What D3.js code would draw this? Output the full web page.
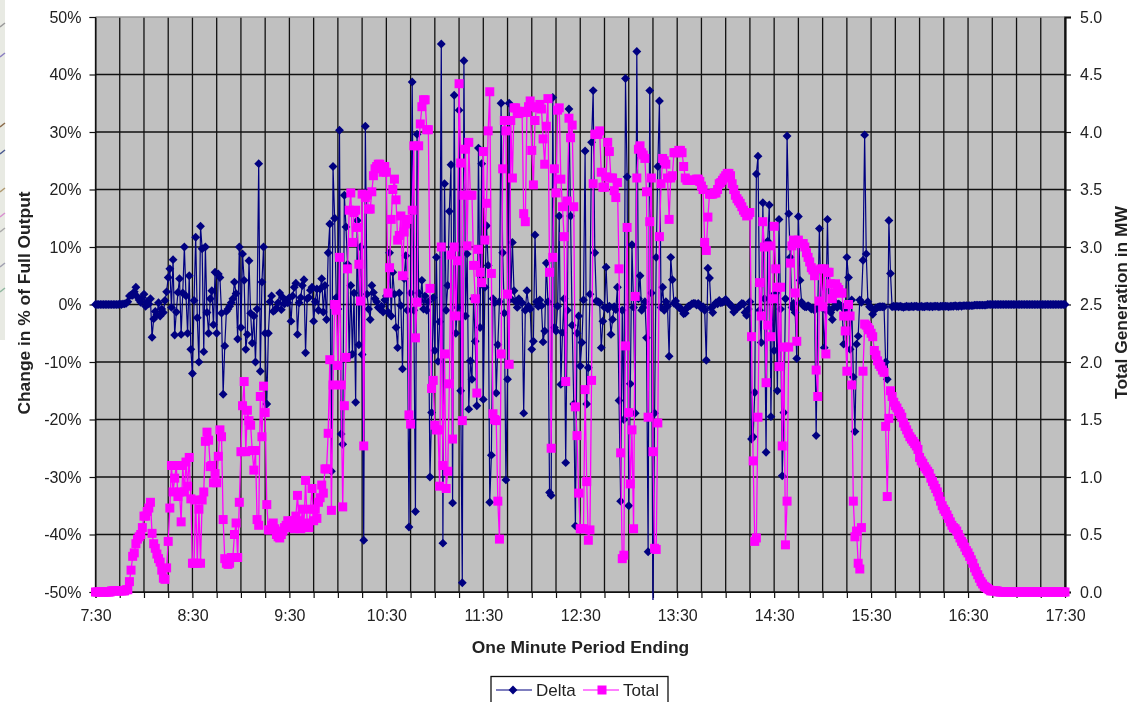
<!DOCTYPE html>
<html>
<head>
<meta charset="utf-8">
<script src="https://cdn.jsdelivr.net/npm/d3@7"></script>
<style>
  html, body { margin: 0; padding: 0; background: #fff; overflow: hidden; }
  svg { filter: blur(0.45px); }
  text { font-family: "Liberation Sans", Arial, sans-serif; fill: #222; }
</style>
</head>
<body>
<div id="chart"></div>
<script>
// tick labels, one per hour
const hourLabels = ["7:30","8:30","9:30","10:30","11:30","12:30","13:30","14:30","15:30","16:30","17:30"];

// one value per minute, each row is 15 minutes starting at 7:30
// change in % of full output
const delta = [
  0,0,0,0,0,0,0,0,0,0,0,0,0,0,0,
  0.1,0,0.1,0.1,0.2,0.5,1.5,1.6,1.6,2.2,3,1.3,0.8,0.4,1.2,
  1.8,-0.3,0.5,0.1,1,-5.7,-2.5,-1.2,-1.8,0.3,-2,-0.8,-1.4,0.7,2.2,
  4.7,6.2,-0.5,7.8,-5.3,-1.3,2.1,4.5,-5.2,2,10,1.5,-5,5,-7.8,
  -12,0.7,11.7,-2.3,-10,13.6,9.7,-8.2,10,-1.4,-5,1,2.4,-3.5,5.6,
  -5,5.3,4.7,-1.5,-15.6,-7.2,-1.2,-0.8,-0.3,0.3,1,3.9,1.9,-6,10,
  -4,8.8,4.2,-7.8,-5.2,7.6,-1.5,-6.7,-2,-10,-0.8,24.5,-11.6,3.9,10,
  -5,-17.3,-5,0.5,1.5,-1.2,-1,-0.6,0.3,2,-0.9,1.2,0.1,0.6,0.3,
  1.2,-2.9,1.5,3,3.7,-5.2,0.3,1.2,3.3,4.3,-8.4,1,1.2,2.5,3,
  -2.9,0.5,2.7,-1,2.7,4.5,-1.3,3.3,-2.6,9,14,-29,24,15,1.2,
  -0.8,30.3,-22.5,-24.3,19,13.5,7,-9,3.3,-8.6,2,-17,14.6,-7,10,
  -8.7,-41,31,1.8,-0.8,-2.6,3.3,2.1,1,0.5,-0.5,-0.8,-0.3,-1.3,0.8,
  1.5,-1.3,9,-2,5.6,1.8,-4,-7.5,2,-0.2,-11.2,4.5,8.5,-1,-38.7,
  2,38.7,-1,-36,29.6,2,0.7,4.2,-0.8,1.5,-1,0.5,-30,-18.8,1.2,
  -8,8.2,-9.9,-3,45.3,-41.5,21,-1,3.3,16.2,24.3,-34.5,36.4,-5,-0.5,
  33.8,-15,-48.4,42.4,-2,8.8,-18.2,-9.8,-13,1,-6.4,-17.6,27.2,-4,24.5,
  -16.5,3,13.7,6.8,-34.4,-26.2,1,0.3,-15.4,-7,0.5,35,9,-1.5,-30.5,
  -13,35,1,10.8,2.4,0.5,-0.5,1,0.5,0.3,-18.9,-1,2.4,-0.3,-0.8,
  -7.8,-6.4,12.1,0.5,-0.3,0.8,-0.2,-6.5,-4.6,7.2,0.5,-32.7,-33.2,36,-4,
  -4.6,-0.3,15.4,-13.9,-4.9,1,-27.5,-1,34,15.4,-3.6,-17.3,-38.5,-5,-2,
  -10.7,-6.6,0.8,26.7,-17.3,-11,1.8,28.2,37.2,9,0.6,0.5,0.3,-7.5,-2.9,
  -0.5,6.5,-0.8,-0.3,-5.2,-2.6,-0.4,-0.9,3,-16.7,-34.2,-1,-20,39.3,22.2,
  -35,-13.8,10.4,-0.5,-18.9,44,1,5,-1,-0.5,0.5,-5.8,-43,37.2,2,
  -53,-18.9,8.2,24,35.4,-0.5,3,-1,0.5,-0.3,-9,8.2,4.3,0.2,0.6,
  -0.2,-0.5,-0.6,-1,-1.6,-1.5,-0.6,-0.3,-0.2,0.1,0.2,0.2,-0.1,0.2,-0.1,
  -0.6,-0.4,-1,-9.7,6.3,4.6,-0.6,-1.4,-0.1,0.3,0.1,0.7,0.3,0.4,0.5,
  0.9,0.5,0.2,-0.1,-0.4,-1.3,-0.9,-0.7,-0.4,-0.2,0.2,0.1,-1.4,-1.9,-0.8,
  0.5,-23.4,-23,-15.3,22.7,25.8,-1,-6.6,17.7,1,-25.7,11,17.3,-19.5,1.5,
  -8,2,-15,14.8,-0.8,-29.8,-18.8,1,29.3,15.8,8.2,-0.5,0.2,-1.4,-9.4,
  15.3,4.2,0.4,-0.2,-0.4,-0.4,-0.2,-0.4,-0.8,-0.6,-1,-22.8,-0.5,13.2,-0.3,
  -0.6,-7.5,-1,14.8,-0.8,-1.4,-2.6,-0.5,0.3,-0.5,0.1,-0.2,-0.3,-6.9,-1,
  8.2,4.7,-7.8,0.8,-12.6,-22.1,-6.9,-5.5,0.8,0.4,7.7,29.5,8.8,0.5,-0.4,
  -0.5,-1.7,-1,-0.6,-0.5,-0.4,-0.4,-0.4,-0.4,-10,-13,14.6,5.4,-0.4,-0.3,
  -0.4,-0.3,-0.4,-0.3,-0.4,-0.5,-0.4,-0.3,-0.4,-0.4,-0.3,-0.4,-0.3,-0.3,-0.4,
  -0.4,-0.3,-0.4,-0.4,-0.3,-0.3,-0.4,-0.3,-0.4,-0.3,-0.3,-0.3,-0.4,-0.3,-0.3,
  -0.3,-0.3,-0.3,-0.4,-0.3,-0.3,-0.3,-0.2,-0.3,-0.3,-0.2,-0.3,-0.2,-0.2,-0.2,
  -0.2,-0.2,-0.2,-0.2,-0.1,-0.1,-0.1,-0.1,-0.1,-0.1,-0.1,-0.1,0,0,0,
  0,0,0,0,0,0,0,0,0,0,0,0,0,0,0,
  0,0,0,0,0,0,0,0,0,0,0,0,0,0,0,
  0,0,0,0,0,0,0,0,0,0,0,0,0,0,0,
  0
];

// total generation in MW
const total = [
  0,0,0,0,0,0,0,0,0,0,0.01,0.01,0.01,0.01,0.01,
  0.01,0.01,0.01,0.01,0.02,0.02,0.09,0.19,0.31,0.34,0.42,0.46,0.48,0.5,0.56,
  0.66,0.66,0.7,0.73,0.78,0.51,0.42,0.38,0.33,0.29,0.26,0.19,0.12,0.11,0.21,
  0.44,0.73,1.1,0.87,0.99,1.1,0.83,0.87,0.61,1.1,0.87,1.13,0.92,1.17,0.81,
  0.25,0.25,0.8,0.25,0.72,0.25,0.8,0.87,1.31,1.39,1.32,1.09,1.1,0.95,1.03,
  0.95,1.18,1.41,1.35,0.63,0.29,0.25,0.24,0.25,0.3,0.3,0.5,0.6,0.3,0.78,
  1.22,1.62,1.83,1.22,1.58,1.49,1.45,1.23,1.06,1.23,0.63,0.58,1.7,1.35,1.79,
  1.56,0.76,0.54,0.54,0.58,0.6,0.55,0.5,0.48,0.47,0.5,0.53,0.56,0.58,0.62,
  0.6,0.56,0.62,0.55,0.66,0.84,0.62,0.55,0.72,0.58,0.97,0.6,0.56,0.72,0.9,
  0.62,0.72,0.64,0.78,0.82,0.93,0.86,1.07,1.07,1.38,2.02,0.71,1.8,2.5,2.45,
  1.97,2.91,1.8,0.74,1.62,2.04,2.81,3.32,3.47,3.04,3.3,3.32,3.17,2.85,2.53,
  3.46,1.27,3.43,3.45,3.33,3.33,3.48,3.62,3.68,3.7,3.72,3.72,3.7,3.65,3.7,
  3.65,2.6,2.82,3.24,3.5,3.59,3.41,3.06,3.1,3.27,2.75,3.13,3.2,3.24,1.54,
  1.46,3.32,3.88,2.21,2.52,3.88,4.07,4.22,4.28,4.28,4.02,4.02,2.64,1.77,1.84,
  1.45,1.41,1.41,0.92,3,1.1,2.07,0.9,1.05,1.81,2.93,1.33,3,2.4,2.88,
  4.42,3.73,1.49,3.45,3.85,3.01,3.91,3.45,3.45,2.84,2.55,1.73,2.98,2.78,2.69,
  3.83,3.06,3.38,4.01,4.35,2.77,1.55,1.5,1.49,0.79,0.46,2.07,3.68,4.1,4.01,
  2.59,1.98,4.1,3.6,4.21,4.21,4.18,4.16,4.17,4.18,3.29,3.22,4.17,4.22,4.27,
  3.84,3.54,4.1,4.21,4.22,4.24,4.2,3.94,3.72,4.05,4.29,2.78,1.25,2.91,3.68,
  3.47,4.19,4.21,3.59,3.35,3.09,1.83,3.4,4.12,3.95,4.06,3.35,1.61,1.36,0.86,
  0.55,0.55,0.55,1.76,0.96,0.45,0.54,1.84,3.55,3.98,3.98,3.98,4.01,3.65,3.52,
  3.52,3.61,3.91,3.83,3.6,3.6,3.49,3.43,3.56,2.81,1.21,0.29,0.32,2.14,3.17,
  1.56,0.94,1.41,0.55,2.57,3.6,3.85,3.88,3.82,3.8,3.77,3.48,1.52,3.22,3.6,
  1.22,0.38,0.37,1.47,3.09,3.55,3.77,3.75,3.72,3.6,3.24,3.6,3.62,3.82,3.82,
  3.82,3.84,3.84,3.82,3.7,3.6,3.58,3.58,3.58,3.58,3.58,3.58,3.59,3.59,3.57,
  3.53,3.5,3.04,2.97,3.26,3.46,3.46,3.46,3.47,3.47,3.5,3.55,3.56,3.58,3.6,
  3.62,3.64,3.64,3.62,3.55,3.5,3.45,3.42,3.4,3.38,3.35,3.32,3.3,3.27,3.28,
  3.3,2.22,1.14,0.44,0.47,1.52,2.69,2.4,3.22,3,1.82,2.32,3.01,2.22,2.55,
  3.18,2.81,2.65,1.96,2.65,1.27,2.13,0.41,0.79,2.13,2.86,3.01,3.06,2.6,2.18,
  3.06,3.03,3.03,3.03,3,2.95,2.91,2.87,2.82,2.8,2.75,1.93,1.7,2.53,2.81,
  2.48,2.81,2.07,2.78,2.78,2.68,2.55,2.6,2.68,2.65,2.63,2.6,2.6,2.4,2.27,
  1.92,2.5,2.4,1.8,0.79,0.48,0.53,0.25,0.2,0.56,1.92,2.33,2.32,2.3,2.28,
  2.25,2.22,2.1,2.06,2.01,1.98,1.96,1.93,1.91,1.44,0.83,1.51,1.75,1.7,1.65,
  1.62,1.6,1.57,1.55,1.52,1.47,1.44,1.41,1.38,1.35,1.33,1.31,1.29,1.27,1.24,
  1.17,1.14,1.12,1.09,1.07,1.05,1.03,0.99,0.96,0.93,0.9,0.87,0.83,0.79,0.75,
  0.72,0.7,0.67,0.64,0.61,0.58,0.56,0.55,0.53,0.5,0.47,0.44,0.42,0.39,0.36,
  0.34,0.31,0.28,0.25,0.21,0.18,0.15,0.12,0.09,0.07,0.05,0.04,0.03,0.02,0.01,
  0.01,0.01,0.01,0.01,0,0,0,0,0,0,0,0,0,0,0,
  0,0,0,0,0,0,0,0,0,0,0,0,0,0,0,
  0,0,0,0,0,0,0,0,0,0,0,0,0,0,0,
  0
];

const width = 1138, height = 702;
const margin = { top: 17, right: 73, bottom: 110, left: 95.5 };
const plotW = width - margin.left - margin.right,
      plotH = height - margin.top - margin.bottom;

const svg = d3.select("#chart").append("svg")
    .attr("width", width)
    .attr("height", height);

// bit of the page behind the chart, showing at the left edge of the screenshot
svg.append("rect").attr("width", 5).attr("height", 340).attr("fill", "#e8eae3");
[[25,"#999"],[55,"#8a7fc0"],[125,"#8a6a4a"],[152,"#4a5a90"],[190,"#b09a70"],[215,"#d890d0"],[230,"#aaa"],[265,"#a0a0b0"],[290,"#90b8a0"]]
  .forEach(s => svg.append("line")
    .attr("x1", 0).attr("x2", 5).attr("y1", s[0] + 2).attr("y2", s[0] - 2)
    .attr("stroke", s[1]).attr("stroke-width", 1.5));

const g = svg.append("g")
    .attr("transform", `translate(${margin.left},${margin.top})`);

const x = d3.scaleLinear().domain([0, delta.length - 1]).range([0, plotW]);
const yLeft = d3.scaleLinear().domain([-50, 50]).range([plotH, 0]);
const yRight = d3.scaleLinear().domain([0, 5]).range([plotH, 0]);

svg.append("defs").append("clipPath").attr("id", "plotClip")
  .append("rect")
    .attr("x", -8).attr("y", 0)
    .attr("width", plotW + 16).attr("height", plotH + 8);

// grey plot area
g.append("rect")
    .attr("width", plotW).attr("height", plotH)
    .attr("fill", "#c0c0c0");

// gridlines
const quarterTicks = d3.range(0, 601, 15);
const yTicks = d3.range(-50, 51, 10);
g.append("g").selectAll("line").data(quarterTicks).enter().append("line")
    .attr("x1", d => x(d)).attr("x2", d => x(d))
    .attr("y1", 0).attr("y2", plotH)
    .attr("stroke", "#111").attr("stroke-width", 1.3);
g.append("g").selectAll("line").data(yTicks).enter().append("line")
    .attr("x1", 0).attr("x2", plotW)
    .attr("y1", d => yLeft(d)).attr("y2", d => yLeft(d))
    .attr("stroke", d => d === 50 ? "#999" : "#111").attr("stroke-width", 1.3);

// axes
const xAxis = g.append("g")
    .attr("transform", `translate(0,${plotH})`)
    .call(d3.axisBottom(x).tickValues(quarterTicks).tickSize(6).tickPadding(12)
      .tickFormat(d => d % 60 === 0 ? hourLabels[d / 60] : ""));
const leftAxis = g.append("g")
    .call(d3.axisLeft(yLeft).tickValues(yTicks).tickSize(6).tickPadding(8).tickFormat(d => d + "%"));
const rightAxis = g.append("g")
    .attr("transform", `translate(${plotW},0)`)
    .call(d3.axisRight(yRight).tickValues(d3.range(0, 5.01, 0.5)).tickSize(6).tickPadding(9).tickFormat(d3.format(".1f")));

[xAxis, leftAxis, rightAxis].forEach(a => {
  a.selectAll("text").style("font-size", "16px").style("fill", "#222");
  a.selectAll("line").attr("stroke", "#111").attr("stroke-width", 1.2);
  a.select(".domain").attr("stroke", "#111");
});
rightAxis.select(".domain").attr("stroke-width", 2.2);

// series
const series = g.append("g").attr("clip-path", "url(#plotClip)");

const lineDelta = d3.line().x((d, i) => x(i)).y(d => yLeft(d));
const lineTotal = d3.line().x((d, i) => x(i)).y(d => yRight(d));

series.append("path").datum(delta)
    .attr("d", lineDelta).attr("fill", "none")
    .attr("stroke", "#000080").attr("stroke-width", 1.2);
series.append("g").selectAll("path").data(delta).enter().append("path")
    .attr("d", d3.symbol(d3.symbolDiamond2, 50))
    .attr("transform", (d, i) => `translate(${x(i)},${yLeft(d)})`)
    .attr("fill", "#000080");

series.append("path").datum(total)
    .attr("d", lineTotal).attr("fill", "none")
    .attr("stroke", "#ff00ff").attr("stroke-width", 1.3);
series.append("g").selectAll("rect").data(total).enter().append("rect")
    .attr("x", -4.5).attr("y", -4.5)
    .attr("width", 9).attr("height", 9)
    .attr("transform", (d, i) => `translate(${x(i)},${yRight(d)})`)
    .attr("fill", "#ff00ff");

// titles
svg.append("text")
    .attr("text-anchor", "middle")
    .attr("x", 580.5).attr("y", 653)
    .style("font-size", "17.4px").style("font-weight", "bold")
    .text("One Minute Period Ending");
svg.append("text")
    .attr("text-anchor", "middle")
    .attr("transform", "translate(29.5,303) rotate(-90)")
    .style("font-size", "17.4px").style("font-weight", "bold")
    .text("Change in % of Full Output");
svg.append("text")
    .attr("text-anchor", "middle")
    .attr("transform", "translate(1127,302.5) rotate(-90)")
    .style("font-size", "17.4px").style("font-weight", "bold")
    .text("Total Generation in MW");

// legend, its bottom edge falls off the screenshot
const legend = svg.append("g");
legend.append("rect")
    .attr("x", 491).attr("y", 676.5).attr("width", 177).attr("height", 40)
    .attr("fill", "#fff").attr("stroke", "#111").attr("stroke-width", 1.3);
const legendItems = [
  { name: "Delta", color: "#000080", x0: 496, textX: 536, symbol: "diamond" },
  { name: "Total", color: "#ff00ff", x0: 583, textX: 623, symbol: "square" }
];
legendItems.forEach(item => {
  legend.append("line")
      .attr("x1", item.x0).attr("x2", item.x0 + 36)
      .attr("y1", 690).attr("y2", 690)
      .attr("stroke", item.color).attr("stroke-width", 1.2);
  if (item.symbol === "diamond") {
    legend.append("path")
        .attr("d", d3.symbol(d3.symbolDiamond2, 50))
        .attr("transform", `translate(${item.x0 + 17},690)`)
        .attr("fill", item.color);
  } else {
    legend.append("rect")
        .attr("x", item.x0 + 14.5).attr("y", 685.5)
        .attr("width", 9).attr("height", 9)
        .attr("fill", item.color);
  }
  legend.append("text")
      .attr("x", item.textX).attr("y", 695.5)
      .style("font-size", "17px")
      .text(item.name);
});
</script>
</body>
</html>
